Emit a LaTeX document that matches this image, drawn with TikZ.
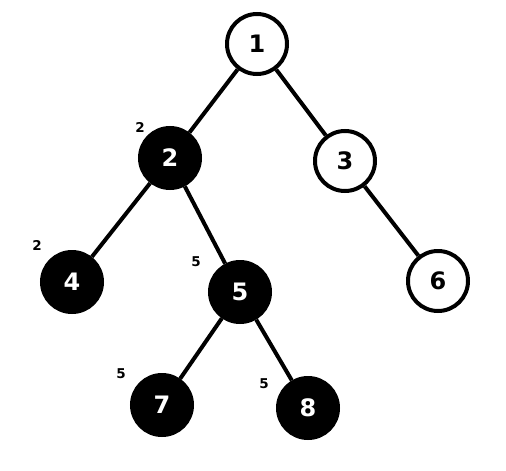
\documentclass[tikz,border=0pt]{standalone}
\usepackage{fontspec}
\setmainfont{DejaVu Sans}
\begin{document}
\begin{tikzpicture}[x=1pt,y=-1pt,
  vtx/.style={circle,draw=black,line width=4pt,minimum size=60pt,inner sep=0pt,font=\fontsize{24}{24}\selectfont\bfseries},
  wvtx/.style={vtx,fill=white,text=black},
  bvtx/.style={vtx,fill=black,text=white},
  lbl/.style={font=\fontsize{13.5}{13.5}\selectfont\bfseries,inner sep=0pt},
  edge/.style={line width=4pt}]
\useasboundingbox (0,0) rectangle (506,471);
\node[wvtx] (n1) at (257,44) {1};
\node[bvtx] (n2) at (170,158) {2};
\node[wvtx] (n3) at (345,161) {3};
\node[bvtx] (n4) at (72,282) {4};
\node[bvtx] (n5) at (240,292) {5};
\node[wvtx] (n6) at (438,281) {6};
\node[bvtx] (n7) at (162,405) {7};
\node[bvtx] (n8) at (308,408) {8};
\node[lbl] (l2) at (140,127) {2};
\node[lbl] (l4) at (37,245) {2};
\node[lbl] (l5) at (196,262) {5};
\node[lbl] (l7) at (121,374) {5};
\node[lbl] (l8) at (264,384) {5};
\draw[edge] (n1) -- (n2);
\draw[edge] (n1) -- (n3);
\draw[edge] (n2) -- (n4);
\draw[edge] (n2) -- (n5);
\draw[edge] (n3) -- (n6);
\draw[edge] (n5) -- (n7);
\draw[edge] (n5) -- (n8);
\end{tikzpicture}
\end{document}
